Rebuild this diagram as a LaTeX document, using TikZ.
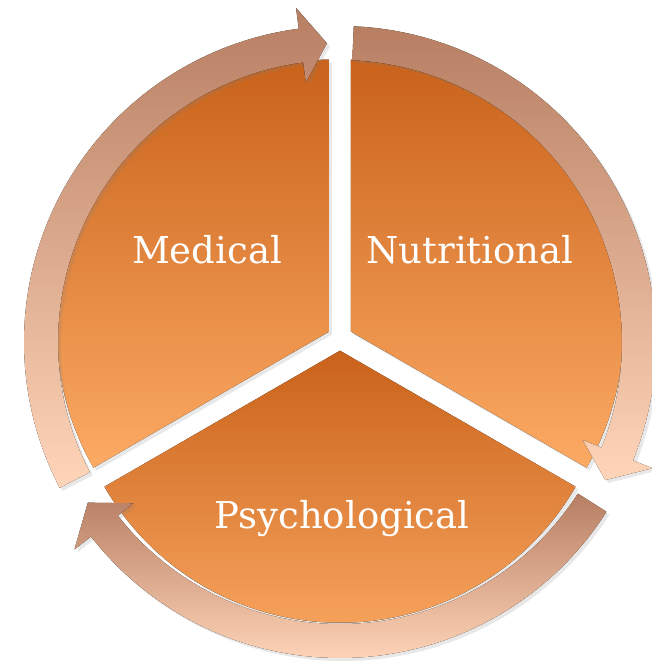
\documentclass[tikz,border=0pt]{standalone}
\usepackage{fontspec}
\setmainfont{DejaVu Serif}
\usetikzlibrary{shadows}
\definecolor{sectortop}{RGB}{201,98,26}
\definecolor{sectorbot}{RGB}{252,170,100}
\definecolor{ringtop}{RGB}{183,126,98}
\definecolor{ringbot}{RGB}{255,213,185}
\tikzset{
  sector/.style={top color=sectortop, bottom color=sectorbot,
    drop shadow={opacity=0.18, shadow xshift=3pt, shadow yshift=-3pt}},
  ringarrow/.style={top color=ringtop, bottom color=ringbot,
    drop shadow={opacity=0.18, shadow xshift=3pt, shadow yshift=-3pt}},
  segtext/.style={text=white, font=\fontsize{37}{44}\selectfont}
}
% arrow of the ring: tail angle, head base angle, tip angle
\newcommand{\cyclearrow}[3]{%
  \fill[ringarrow] (#1:316) arc[start angle=#1, end angle=#2, radius=316]
    -- (#2:337) -- (#3:299) -- (#2:262) -- (#2:282)
    arc[start angle=#2, end angle=#1, radius=282] -- cycle;}
\begin{document}
\begin{tikzpicture}[x=1pt, y=1pt]
    \useasboundingbox (-340,-323) rectangle (312,342);
    % the three segments
    \fill[sector] (-11,10.35) -- ++(90:272) arc[start angle=90, end angle=210, radius=272] -- cycle;
    \fill[sector] (11,10.35) -- ++(-30:272) arc[start angle=-30, end angle=90, radius=272] -- cycle;
    \fill[sector] (0,-8.7) -- ++(210:272) arc[start angle=210, end angle=330, radius=272] -- cycle;
    % the ring of arrows
    \cyclearrow{207.5}{97.5}{92.5}
    \cyclearrow{87.5}{-22}{-27.5}
    \cyclearrow{-32.5}{-142}{-147.5}
    % texts
    \node[segtext, anchor=base] (med) at (-133,79) {Medical};
    \node[segtext, anchor=base] (nut) at (130,79) {Nutritional};
    \node[segtext, anchor=base] (psy) at (2,-186) {Psychological};
\end{tikzpicture}
\end{document}
